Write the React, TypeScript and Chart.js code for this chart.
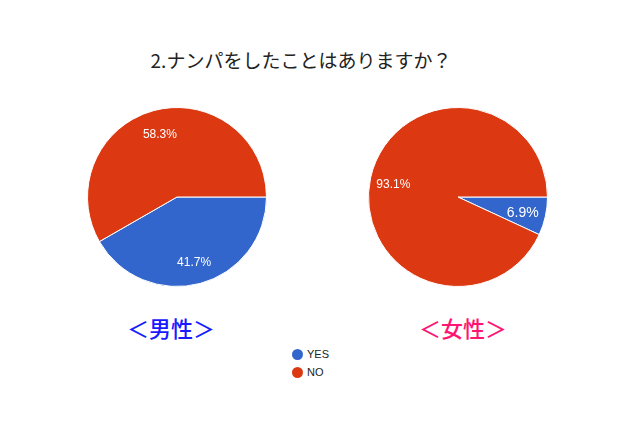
import { useEffect, useRef } from "react";
import { Chart, registerables, Plugin } from "chart.js";

Chart.register(...registerables);

const categories = ["YES", "NO"];
const maleValues = [41.7, 58.3];
const femaleValues = [6.9, 93.1];

const colors = ["#3366cc", "#dc3912"];

// draws the percentage inside each slice, like google charts does
const sliceLabels: Plugin<"pie"> = {
  id: "sliceLabels",
  afterDatasetsDraw(chart: any) {
    const ctx = chart.ctx;
    const meta = chart.getDatasetMeta(0);
    const data = chart.data.datasets[0].data as number[];
    ctx.save();
    ctx.fillStyle = "#ffffff";
    ctx.textAlign = "center";
    ctx.textBaseline = "middle";
    meta.data.forEach((arc: any, i: number) => {
      const mid = (arc.startAngle + arc.endAngle) / 2;
      const r = arc.outerRadius * 0.74;
      const x = arc.x + Math.cos(mid) * r;
      const y = arc.y + Math.sin(mid) * r + 2;
      const small = data[i] < 10;
      ctx.font = `${small ? 14 : 12}px "Liberation Sans", Arial, sans-serif`;
      ctx.fillText(data[i].toFixed(1) + "%", x, y);
    });
    ctx.restore();
  },
};

function PieChart({ values, left }: { values: number[]; left: number }) {
  const ref = useRef<HTMLCanvasElement>(null);

  useEffect(() => {
    if (!ref.current) return;
    const chart = new Chart(ref.current, {
      type: "pie",
      data: {
        labels: categories,
        datasets: [
          {
            data: values,
            backgroundColor: colors,
            borderColor: "#ffffff",
            borderWidth: 1,
          },
        ],
      },
      options: {
        responsive: false,
        animation: false,
        devicePixelRatio: 1,
        rotation: 90,
        layout: { padding: 10 },
        plugins: {
          legend: { display: false },
          tooltip: { enabled: false },
        },
      },
      plugins: [sliceLabels],
    });
    return () => chart.destroy();
  }, [values]);

  return (
    <canvas
      ref={ref}
      width={200}
      height={200}
      style={{ position: "absolute", left, top: 97, width: 200, height: 200 }}
    />
  );
}

export default function App() {
  useEffect(() => {
    document.body.style.margin = "0";
  }, []);

  const jp = '"Noto Sans CJK JP", sans-serif';
  const arial = '"Liberation Sans", Arial, sans-serif';

  return (
    <div style={{ position: "relative", width: 640, height: 427, background: "#fff" }}>
      <div
        style={{
          position: "absolute",
          left: 0,
          top: 46,
          width: 602,
          textAlign: "center",
          fontFamily: jp,
          fontSize: 19,
          color: "#222",
          lineHeight: "28px",
        }}
      >
        2.ナンパをしたことはありますか？
      </div>
      <PieChart values={maleValues} left={77} />
      <PieChart values={femaleValues} left={358} />
      <div
        style={{
          position: "absolute",
          left: 127,
          top: 311,
          fontFamily: jp,
          fontSize: 22,
          fontWeight: 500,
          color: "#1a1aff",
          lineHeight: "32px",
        }}
      >
        ＜男性＞
      </div>
      <div
        style={{
          position: "absolute",
          left: 419,
          top: 311,
          fontFamily: jp,
          fontSize: 22,
          fontWeight: 500,
          color: "#ff1473",
          lineHeight: "32px",
        }}
      >
        ＜女性＞
      </div>
      <div style={{ position: "absolute", left: 292, top: 345, fontFamily: arial, fontSize: 11, color: "#222" }}>
        {categories.map((c, i) => (
          <div key={c} style={{ display: "flex", alignItems: "center", height: 18 }}>
            <span
              style={{
                width: 11,
                height: 11,
                borderRadius: "50%",
                background: colors[i],
                display: "inline-block",
                marginRight: 4,
              }}
            />
            {c}
          </div>
        ))}
      </div>
    </div>
  );
}
